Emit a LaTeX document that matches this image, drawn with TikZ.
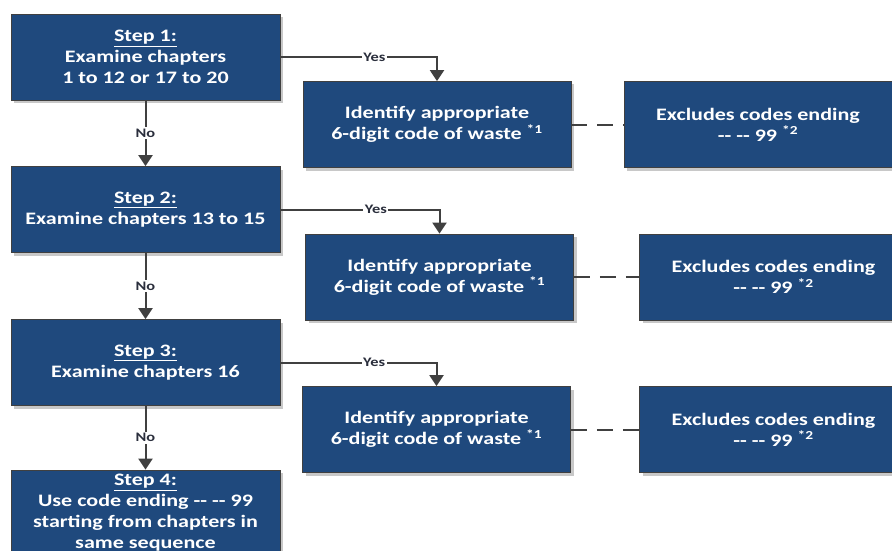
\documentclass[tikz,border=0pt]{standalone}
\usepackage{fontspec}
\setmainfont{Carlito}[FakeStretch=1.26]
\usepackage{tikz}
\usetikzlibrary{arrows.meta, positioning, calc, shadows}
\usepackage{xcolor}
\definecolor{wasteblue}{HTML}{1F497D}
\definecolor{wastegray}{HTML}{404040}
\definecolor{wasteshadow}{HTML}{C8C8C8}
\definecolor{wastelabel}{HTML}{2A2E3C}

\begin{document}
\begin{tikzpicture}[
    x=1pt, y=-1pt,
    stepbox/.style={
        rectangle,
        draw=wastegray,
        line width=0.8pt,
        fill=wasteblue,
        text=white,
        align=center,
        minimum width=269pt,
        minimum height=86pt,
        font=\fontsize{17.5}{21}\selectfont\bfseries,
        drop shadow={shadow xshift=3pt, shadow yshift=-3pt, fill=wasteshadow, opacity=1}
    },
    codebox/.style={
        stepbox,
        minimum width=268pt
    },
    arrow/.style={
        -{Triangle[length=11pt, width=14pt]},
        line width=2pt,
        wastegray
    },
    dashline/.style={
        dash pattern=on 16pt off 10pt,
        line width=2pt,
        wastegray
    },
    answer/.style={
        fill=white,
        inner sep=1.5pt,
        text=wastelabel,
        font=\fontsize{13}{13}\selectfont\bfseries
    }
]
\useasboundingbox (0,0) rectangle (892,551);
\clip (0,0) rectangle (892,551);

% Steps
\node[stepbox] (s1) at (145.5,57) {\underline{Step 1:}\\Examine chapters\\1 to 12 or 17 to 20};
\node[stepbox] (s2) at (145.5,209.5) {\underline{Step 2:}\\Examine chapters 13 to 15};
\node[stepbox] (s3) at (145.5,362.5) {\underline{Step 3:}\\Examine chapters 16};
\node[stepbox] (s4) at (145.5,513) {\underline{Step 4:}\\Use code ending -{}- -{}- 99\\starting from chapters in\\same sequence};

% Identify boxes
\node[codebox] (id1) at (437,124.5) {Identify appropriate\\6-digit code of waste \textsuperscript{*1}};
\node[codebox] (id2) at (439.5,277) {Identify appropriate\\6-digit code of waste \textsuperscript{*1}};
\node[codebox] (id3) at (436.5,429.5) {Identify appropriate\\6-digit code of waste \textsuperscript{*1}};

% Exclusions
\node[codebox] (ex1) at (758,124.5) {Excludes codes ending\\-{}- -{}- 99 \textsuperscript{*2}};
\node[codebox] (ex2) at (773.5,277) {Excludes codes ending\\-{}- -{}- 99 \textsuperscript{*2}};
\node[codebox] (ex3) at (773.5,429.5) {Excludes codes ending\\-{}- -{}- 99 \textsuperscript{*2}};

% Yes branches
\draw[arrow] (s1.east) -| node[answer, pos=0.3] {Yes} (id1.north);
\draw[arrow] (s2.east) -| node[answer, pos=0.3] {Yes} (id2.north);
\draw[arrow] (s3.east) -| node[answer, pos=0.3] {Yes} (id3.north);

% No branches
\draw[arrow] (s1.south) -- node[answer] {No} (s2.north);
\draw[arrow] (s2.south) -- node[answer] {No} (s3.north);
\draw[arrow] (s3.south) -- node[answer] {No} (s4.north);

% Links to exclusions
\draw[dashline] (id1.east) -- (ex1.west);
\draw[dashline] (id2.east) -- (ex2.west);
\draw[dashline] (id3.east) -- (ex3.west);

\end{tikzpicture}
\end{document}
